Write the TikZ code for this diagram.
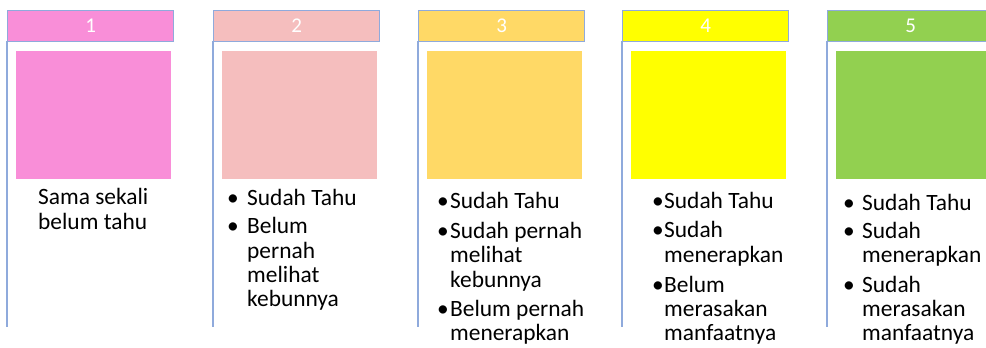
\documentclass[tikz,border=0pt]{standalone}
\usepackage{fontspec}
\setmainfont{Carlito}
\definecolor{cpink}{HTML}{F98ED8}
\definecolor{crose}{HTML}{F5BEBE}
\definecolor{cgold}{HTML}{FFD966}
\definecolor{cyel}{HTML}{FFFF00}
\definecolor{cgreen}{HTML}{92D050}
\definecolor{cedge}{HTML}{8FAADC}
\tikzset{
  hdr/.style={draw=cedge, line width=1.3pt, minimum width=166pt, minimum height=31pt, anchor=north west, inner sep=0pt, text=white, font=\fontsize{21}{24}\selectfont},
  sq/.style={draw=none, minimum width=155pt, minimum height=128pt, anchor=north west, inner sep=0pt},
  vline/.style={draw=cedge, line width=1.1pt},
  txt/.style={anchor=base west, inner sep=0pt, font=\fontsize{23.4}{25}\selectfont, text=black},
  bul/.style={anchor=base, inner sep=0pt, font=\fontsize{23.4}{25}\selectfont, text=black}
}
\newcommand{\tline}[4]{\node[txt] (#1) at (#2,#3) {#4};}
\newcommand{\tbul}[3]{\node[bul] (#1) at (#2,#3) {\textbullet};}
\begin{document}
\begin{tikzpicture}[x=1pt,y=-1pt]
\useasboundingbox (0,0) rectangle (986,348);
\clip (0,0) rectangle (986,348);
% columns
\foreach \i/\x/\c in {1/7/cpink,2/213/crose,3/418/cgold,4/622/cyel,5/827/cgreen}{
  \node[hdr, fill=\c] (h\i) at (\x,10) {\i};
  \coordinate (t\i) at (\x,41);
  \coordinate (b\i) at (\x,327);
  \draw[vline] (t\i) -- (b\i);
  \node[sq, fill=\c] (s\i) at (\x+9,51) {};
}
% column 1
\tline{a1}{38}{204}{Sama sekali}
\tline{a2}{38}{229}{belum tahu}
% column 2
\tbul{p1}{233}{205}\tline{q1}{247}{205}{Sudah Tahu}
\tbul{p2}{233}{233}\tline{q2}{247}{233}{Belum}
\tline{q3}{247}{258}{pernah}
\tline{q4}{247}{282}{melihat}
\tline{q5}{247}{306}{kebunnya}
% column 3
\tbul{r1}{443}{208}\tline{u1}{450}{208}{Sudah Tahu}
\tbul{r2}{443}{238}\tline{u2}{450}{238}{Sudah pernah}
\tline{u3}{450}{262}{melihat}
\tline{u4}{450}{287}{kebunnya}
\tbul{r3}{443}{316}\tline{u5}{450}{316}{Belum pernah}
\tline{u6}{450}{340}{menerapkan}
% column 4
\tbul{v1}{658}{208}\tline{w1}{664}{208}{Sudah Tahu}
\tbul{v2}{658}{237}\tline{w2}{664}{237}{Sudah}
\tline{w3}{664}{262}{menerapkan}
\tbul{v3}{658}{292}\tline{w4}{664}{292}{Belum}
\tline{w5}{664}{316}{merasakan}
\tline{w6}{664}{340}{manfaatnya}
% column 5
\tbul{y1}{849}{210}\tline{z1}{862}{210}{Sudah Tahu}
\tbul{y2}{849}{238}\tline{z2}{862}{238}{Sudah}
\tline{z3}{862}{262}{menerapkan}
\tbul{y3}{849}{292}\tline{z4}{862}{292}{Sudah}
\tline{z5}{862}{316}{merasakan}
\tline{z6}{862}{340}{manfaatnya}
\end{tikzpicture}
\end{document}
